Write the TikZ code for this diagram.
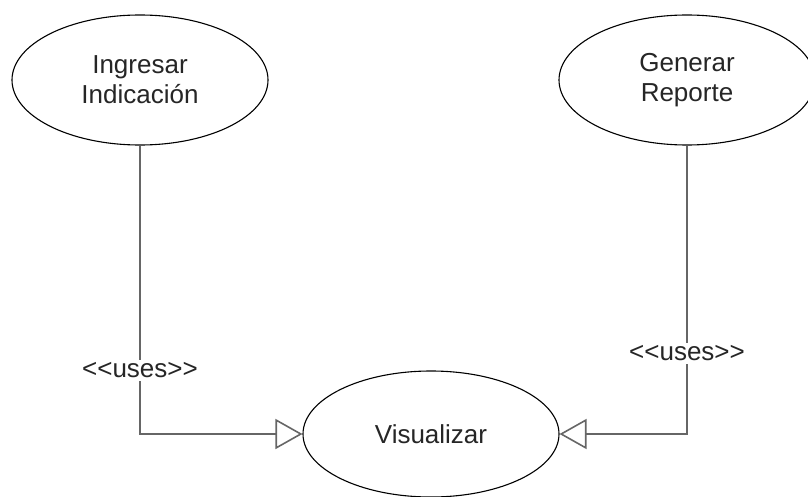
\documentclass[tikz,border=0pt]{standalone}
\usepackage{fontspec}
\setmainfont{Liberation Sans}
\usetikzlibrary{shapes.geometric,arrows.meta}

\tikzset{
  usecase/.style={ellipse, draw=black, line width=1.1pt, fill=white,
    minimum width=256pt, minimum height=130pt, inner sep=0pt,
    align=center, font=\fontsize{26}{30}\selectfont, text=black!85},
  uses/.style={gray!80!black, line width=2pt,
    -{Triangle[open, length=27pt, width=30pt, line width=1.6pt]}},
  stereo/.style={fill=white, inner sep=3pt, font=\fontsize{26}{30}\selectfont, text=black!85}
}

\begin{document}
\begin{tikzpicture}[x=1pt,y=-1pt]

\useasboundingbox (0,0) rectangle (808,497);

\node [usecase] (ingresar) at (140,80) {Ingresar\\Indicaci\'on};
\node [usecase] (generar) at (687,80) {Generar\\Reporte};
\node [usecase, minimum height=126pt] (visualizar) at (431,434) {Visualizar};

\draw [uses] (ingresar.south) |- node [stereo, pos=0.39] {<{}<uses>{}>} (visualizar.west);
\draw [uses] (generar.south) |- node [stereo, pos=0.36] {<{}<uses>{}>} (visualizar.east);

\end{tikzpicture}
\end{document}
